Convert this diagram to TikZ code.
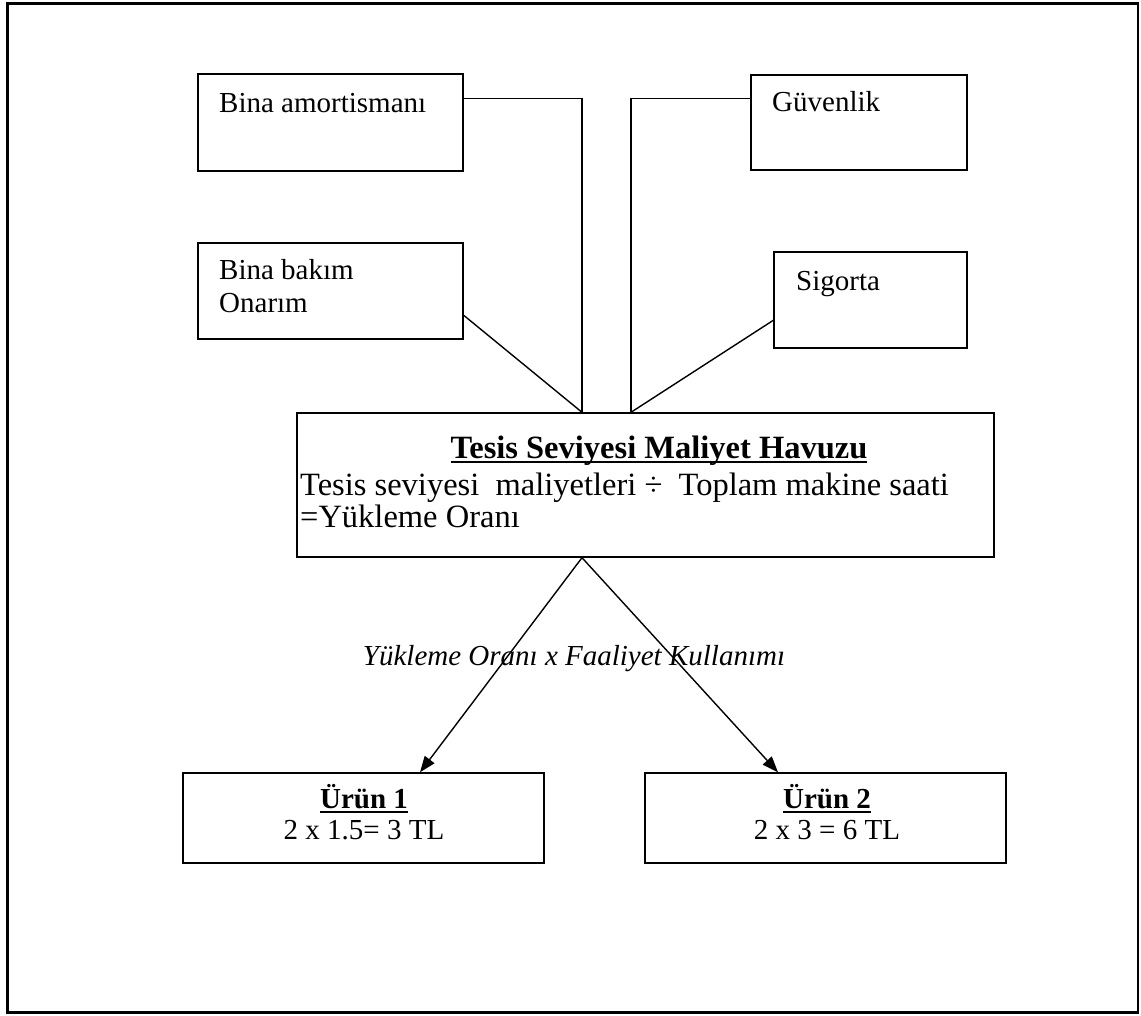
\documentclass[tikz,border=0pt]{standalone}
\usepackage{fontspec}
\setmainfont{Liberation Serif}
\usetikzlibrary{arrows.meta}
% underline drawn just below the baseline, crossing the descenders
\newcommand\lowrule[1]{\setbox0\hbox{#1}\rlap{\rule[-5pt]{\wd0}{1.8pt}}\box0}
\begin{document}
\begin{tikzpicture}[x=1pt,y=-1pt,
  box/.style={draw,line width=1.4pt,inner sep=0pt,rectangle},
  txt/.style={inner sep=0pt,font=\fontsize{29}{33}\selectfont},
  bigtxt/.style={inner sep=0pt,font=\fontsize{32.5}{36}\selectfont},
  link/.style={line width=1.4pt},
  flow/.style={line width=1.4pt,-{Triangle[length=16pt,width=12pt]}}]
\useasboundingbox (0,0) rectangle (1141,1016);
\draw[line width=2.2pt] (7.5,3.5) rectangle (1138,1012.5);

% cost sources
\node[box,minimum width=265pt,minimum height=97pt] (bina) at (330.5,122.5) {};
\node[txt,anchor=base west] (binaT) at (219,113) {Bina amortismanı};
\node[box,minimum width=265pt,minimum height=96pt] (bakim) at (330.5,291) {};
\node[txt,anchor=base west] (bakimA) at (219,280) {Bina bakım};
\node[txt,anchor=base west] (bakimB) at (219,313) {Onarım};
\node[box,minimum width=216pt,minimum height=95pt] (guv) at (859,122.5) {};
\node[txt,anchor=base west] (guvT) at (772,112) {Güvenlik};
\node[box,minimum width=193pt,minimum height=96pt] (sig) at (870.5,300) {};
\node[txt,anchor=base west] (sigT) at (796,291) {Sigorta};

% cost pool
\node[box,minimum width=697pt,minimum height=144pt] (hub) at (645.5,485) {};
\node[bigtxt,anchor=base] (hubT) at (659,458) {\lowrule{\textbf{Tesis Seviyesi Maliyet Havuzu}}};
\node[bigtxt,anchor=base west] (hubA) at (300,495) {Tesis seviyesi\ \ maliyetleri ÷\ \ Toplam makine saati};
\node[bigtxt,anchor=base west] (hubB) at (300,527) {=Yükleme Oranı};

\coordinate (hL) at ([xshift=-63.5pt]hub.north);
\coordinate (hR) at ([xshift=-14.5pt]hub.north);
\coordinate (hD) at ([xshift=-63.5pt]hub.south);

\draw[link] ([yshift=-25pt]bina.north east) -| (hL);
\draw[link] ([yshift=-73pt]bakim.north east) -- (hL);
\draw[link] ([yshift=-24pt]guv.north west) -| (hR);
\draw[link] ([yshift=-69pt]sig.north west) -- (hR);

% products
\node[box,minimum width=361pt,minimum height=90pt] (u1) at (363.5,818) {};
\node[txt,anchor=base] (u1T) at (364,808) {\lowrule{\textbf{Ürün 1}}};
\node[txt,anchor=base] (u1V) at (364,839) {2 x 1.5= 3 TL};
\node[box,minimum width=361pt,minimum height=90pt] (u2) at (825.5,818) {};
\node[txt,anchor=base] (u2T) at (827,808) {\lowrule{\textbf{Ürün 2}}};
\node[txt,anchor=base] (u2V) at (827,839) {2 x 3 = 6 TL};

\draw[flow] (hD) -- ([xshift=56.5pt]u1.north);
\draw[flow] (hD) -- ([xshift=-47.5pt]u2.north);

\node[txt,anchor=base] (rate) at (574,665) {\textit{Yükleme Oranı x Faaliyet Kullanımı}};
\end{tikzpicture}
\end{document}
